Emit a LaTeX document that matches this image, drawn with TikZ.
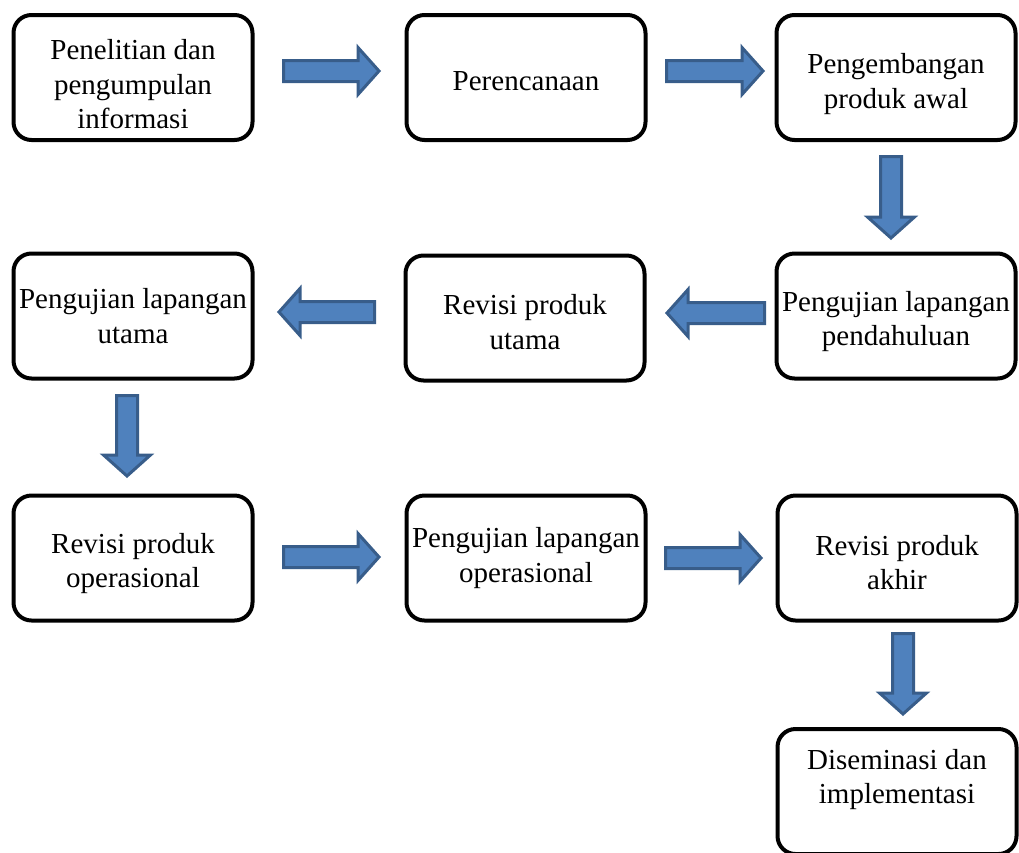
\documentclass[tikz,border=0pt]{standalone}
\usepackage{fontspec}
\setmainfont{Liberation Serif}
\usetikzlibrary{calc}

\definecolor{arrowfill}{HTML}{4F81BD}
\definecolor{arrowline}{HTML}{385D8A}

\tikzset{
  stage/.style={draw, line width=4pt, rounded corners=18pt,
    minimum width=239pt, minimum height=125pt, inner sep=0pt,
    align=center, font=\fontsize{29}{34.5}\selectfont},
  blockarrow/.style={draw=arrowline, fill=arrowfill, line width=3pt,
    to path={let \p1=(\tikztostart), \p2=(\tikztotarget) in
      ($(\p1)!10.5pt!90:(\p2)$)
      -- ($(\p2)!21pt!(\p1)!10.5pt!-90:(\p1)$)
      -- ($(\p2)!21pt!(\p1)!23.5pt!-90:(\p1)$)
      -- (\p2)
      -- ($(\p2)!21pt!(\p1)!23.5pt!90:(\p1)$)
      -- ($(\p2)!21pt!(\p1)!10.5pt!90:(\p1)$)
      -- ($(\p1)!10.5pt!-90:(\p2)$)
      -- cycle}}
}

\begin{document}
\begin{tikzpicture}[x=1pt, y=-1pt]
        \useasboundingbox (0,0) rectangle (1019,852);
        \clip (0,0) rectangle (1019,852);

        % first row
        \node[stage, text height=103pt] (info) at (133,77.5) {Penelitian dan\\pengumpulan\\informasi};
        \node[stage, text height=27pt] (plan) at (526,77.5) {Perencanaan};
        \node[stage, text height=68pt] (dev) at (896,77.5) {Pengembangan\\produk awal};

        % second row
        \node[stage, text height=66pt] (prelim) at (896,316) {Pengujian lapangan\\pendahuluan};
        \node[stage, text height=63pt] (revmain) at (525,318) {Revisi produk\\utama};
        \node[stage] (mainfield) at (133,316) {Pengujian lapangan\\utama};

        % third row
        \node[stage, text height=66pt] (revop) at (133,558) {Revisi produk\\operasional};
        \node[stage] (opfield) at (526,558) {Pengujian lapangan\\operasional};
        \node[stage, text height=64pt] (revfinal) at (897,558) {Revisi produk\\akhir};
        \node[stage, text depth=30pt] (dissem) at (897,791.5) {Diseminasi dan\\implementasi};

        \draw[blockarrow] ([shift={(29,-6.5)}]info.east) to ([shift={(-25.5,-6.5)}]plan.west);
        \draw[blockarrow] ([shift={(19,-6.5)}]plan.east) to ([shift={(-11.5,-6.5)}]dev.west);
        \draw[blockarrow] ([shift={(-5,14.5)}]dev.south) to ([shift={(-5,-13.5)}]prelim.north);
        \draw[blockarrow] ([shift={(-10,-3)}]prelim.west) to ([shift={(20.5,-5)}]revmain.east);
        \draw[blockarrow] ([shift={(-29,-6)}]revmain.west) to ([shift={(24.5,-4)}]mainfield.east);
        \draw[blockarrow] ([shift={(-6,15)}]mainfield.south) to ([shift={(-6,-17.5)}]revop.north);
        \draw[blockarrow] ([shift={(29,-1)}]revop.east) to ([shift={(-25.5,-1)}]opfield.west);
        \draw[blockarrow] ([shift={(18,0)}]opfield.east) to ([shift={(-14.5,0)}]revfinal.west);
        \draw[blockarrow] ([shift={(6,11)}]revfinal.south) to ([shift={(6,-13)}]dissem.north);
    \end{tikzpicture}
\end{document}
